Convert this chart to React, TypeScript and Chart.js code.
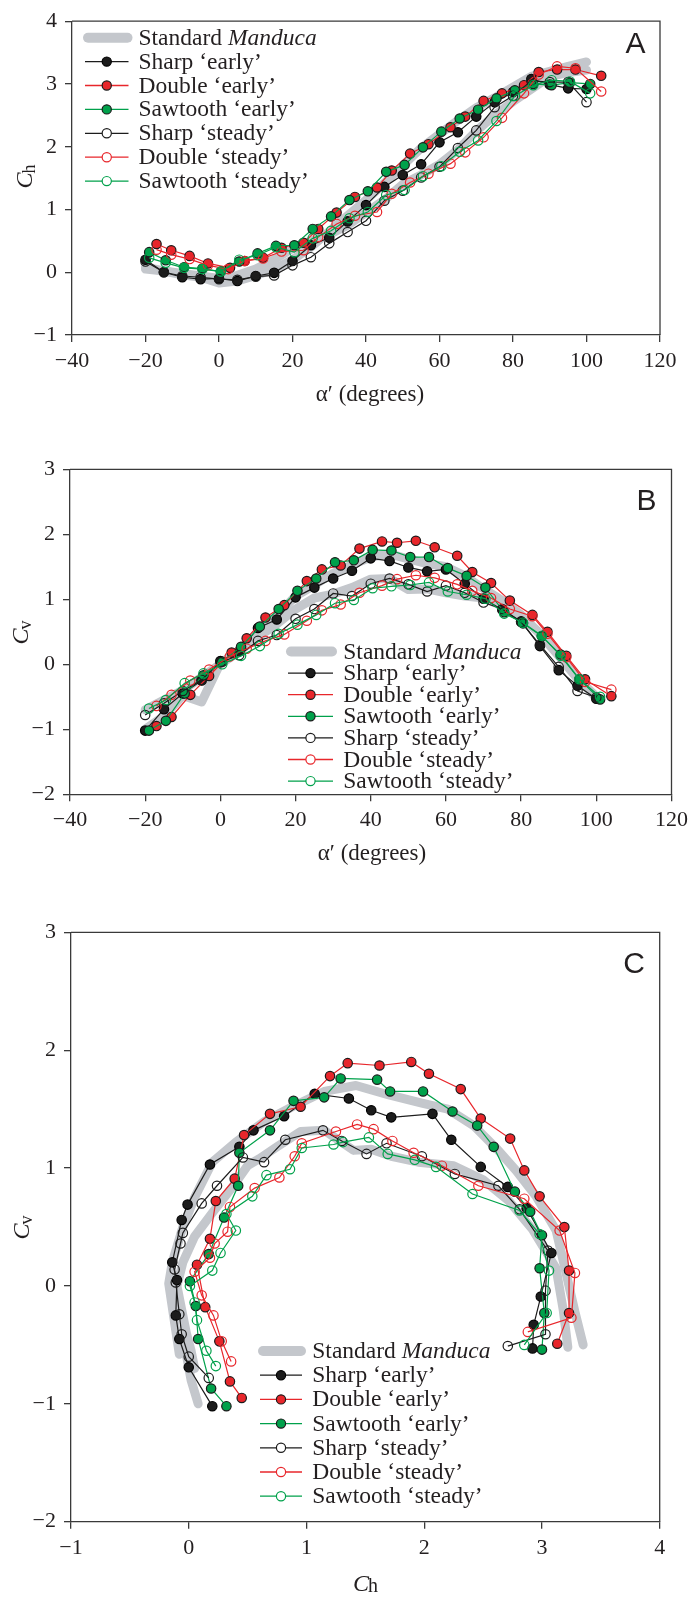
import React, { useEffect, useRef } from "react";
import { Chart, registerables } from "chart.js";

Chart.register(...registerables);

// ---------------- DATA ----------------
// alpha' (degrees), Ch (horizontal force coeff), Cv (vertical force coeff)
const sharpEarlyAlpha = [-20, -15, -10, -5, 0, 5, 10, 15, 20, 25, 30, 35, 40, 45, 50, 55, 60, 65, 70, 75, 80, 85, 90, 95, 100];
const sharpEarlyCh = [0.20, 0.00, -0.08, -0.11, -0.10, -0.14, -0.06, -0.01, 0.18, 0.43, 0.55, 0.81, 1.07, 1.36, 1.55, 1.72, 2.07, 2.23, 2.48, 2.71, 2.87, 3.08, 2.99, 2.93, 2.92];
const sharpEarlyCv = [-1.02, -0.69, -0.45, -0.25, 0.05, 0.20, 0.56, 0.69, 1.03, 1.18, 1.32, 1.44, 1.63, 1.59, 1.49, 1.43, 1.46, 1.24, 1.01, 0.84, 0.66, 0.28, -0.09, -0.33, -0.53];

const doubleEarlyAlpha = [-17, -13, -8, -3, 3, 7, 12, 17, 23, 27, 32, 37, 43, 47, 52, 57, 63, 67, 72, 77, 83, 87, 92, 97, 104];
const doubleEarlyCh = [0.45, 0.35, 0.26, 0.14, 0.07, 0.18, 0.23, 0.39, 0.47, 0.69, 0.95, 1.20, 1.35, 1.62, 1.89, 2.04, 2.31, 2.48, 2.73, 2.85, 2.98, 3.19, 3.23, 3.23, 3.13];
const doubleEarlyCv = [-0.95, -0.81, -0.47, -0.18, 0.18, 0.40, 0.72, 0.91, 1.28, 1.46, 1.52, 1.78, 1.89, 1.87, 1.90, 1.80, 1.67, 1.42, 1.25, 0.98, 0.76, 0.50, 0.13, -0.23, -0.49];

const sawEarlyAlpha = [-19, -14.5, -9.5, -4.5, 0.5, 5.5, 10.5, 15.5, 20.5, 25.5, 30.5, 35.5, 40.5, 45.5, 50.5, 55.5, 60.5, 65.5, 70.5, 75.5, 80.5, 85.5, 90.5, 95.5, 101];
const sawEarlyCh = [0.32, 0.19, 0.08, 0.06, 0.01, 0.17, 0.30, 0.42, 0.43, 0.69, 0.89, 1.15, 1.29, 1.60, 1.71, 1.99, 2.24, 2.45, 2.59, 2.77, 2.90, 3.00, 2.98, 3.02, 3.00];
const sawEarlyCv = [-1.02, -0.87, -0.45, -0.17, 0.04, 0.27, 0.58, 0.85, 1.13, 1.32, 1.57, 1.60, 1.76, 1.75, 1.65, 1.65, 1.48, 1.36, 1.18, 0.80, 0.63, 0.43, 0.15, -0.23, -0.54];

const sharpSteadyAlpha = [-20, -15, -10, -5, 0, 5, 10, 15, 20, 25, 30, 35, 40, 45, 50, 55, 60, 65, 70, 75, 80, 85, 90, 95, 100];
const sharpSteadyCh = [0.17, 0.00, -0.06, -0.08, -0.11, -0.12, -0.07, -0.05, 0.11, 0.24, 0.46, 0.64, 0.82, 1.14, 1.30, 1.51, 1.68, 1.98, 2.26, 2.63, 2.81, 3.05, 3.03, 3.03, 2.71];
const sharpSteadyCv = [-0.78, -0.60, -0.41, -0.24, 0.03, 0.14, 0.36, 0.45, 0.70, 0.85, 1.09, 1.05, 1.24, 1.32, 1.23, 1.12, 1.21, 1.10, 0.95, 0.85, 0.65, 0.30, -0.04, -0.41, -0.51];

const doubleSteadyAlpha = [-17, -13, -8, -3, 2.5, 7, 12, 17, 23, 27, 32, 37, 43, 47, 52, 57, 63, 67, 72, 77, 83, 87, 92, 97, 104];
const doubleSteadyCh = [0.36, 0.28, 0.21, 0.11, 0.05, 0.18, 0.22, 0.33, 0.35, 0.56, 0.77, 0.90, 0.96, 1.25, 1.43, 1.57, 1.73, 1.91, 2.15, 2.46, 2.85, 3.15, 3.28, 3.25, 2.88];
const doubleSteadyCv = [-0.64, -0.47, -0.25, -0.08, 0.12, 0.24, 0.36, 0.46, 0.67, 0.83, 0.92, 1.10, 1.21, 1.31, 1.37, 1.33, 1.23, 1.13, 1.02, 0.85, 0.74, 0.47, 0.11, -0.27, -0.39];

const sawSteadyAlpha = [-19, -14.5, -9.5, -4.5, 0.5, 5.5, 10.5, 15.5, 20.5, 25.5, 30.5, 35.5, 40.5, 45.5, 50.5, 55.5, 60.5, 65.5, 70.5, 75.5, 80.5, 85.5, 90.5, 95.5, 101];
const sawSteadyCh = [0.23, 0.15, 0.07, 0.05, 0.01, 0.20, 0.27, 0.40, 0.32, 0.54, 0.66, 0.86, 0.96, 1.23, 1.31, 1.53, 1.69, 1.92, 2.10, 2.41, 2.81, 2.98, 3.06, 3.04, 2.85];
const sawSteadyCv = [-0.68, -0.55, -0.29, -0.14, 0.00, 0.13, 0.28, 0.47, 0.61, 0.76, 0.94, 0.99, 1.17, 1.20, 1.22, 1.26, 1.12, 1.07, 1.01, 0.78, 0.64, 0.44, 0.13, -0.23, -0.50];

const manducaEarlyAlpha = [-20, -15, -10, -5, 0, 5, 10, 15, 20, 25, 30, 35, 40, 45, 50, 55, 60, 65, 70, 75, 80, 85, 90, 95, 100];
const manducaEarlyCh = [0.08, 0.02, -0.04, -0.08, -0.17, -0.14, -0.05, 0.05, 0.20, 0.40, 0.65, 0.90, 1.15, 1.42, 1.70, 1.98, 2.20, 2.42, 2.62, 2.78, 2.95, 3.12, 3.20, 3.28, 3.35];
const manducaEarlyCv = [-1.00, -0.80, -0.48, -0.58, 0.02, 0.20, 0.50, 0.75, 1.05, 1.22, 1.40, 1.53, 1.65, 1.70, 1.62, 1.55, 1.50, 1.36, 1.16, 0.98, 0.76, 0.47, 0.13, -0.22, -0.50];

const manducaSteadyAlpha = [-20, -15, -10, -5, 0, 5, 10, 15, 20, 25, 30, 35, 40, 45, 50, 55, 60, 65, 70, 75, 80, 85, 90, 95, 100];
const manducaSteadyCh = [0.05, 0.02, -0.02, -0.06, -0.10, -0.05, 0.05, 0.20, 0.38, 0.50, 0.60, 0.75, 0.95, 1.15, 1.40, 1.55, 1.72, 1.95, 2.25, 2.50, 2.72, 2.92, 3.12, 3.18, 3.22];
const manducaSteadyCv = [-0.70, -0.55, -0.40, -0.20, 0.00, 0.20, 0.42, 0.62, 0.85, 1.02, 1.08, 1.18, 1.31, 1.32, 1.15, 1.16, 1.10, 1.05, 1.02, 0.90, 0.72, 0.48, 0.15, -0.20, -0.52];

const alphaTicks = { min: -40, max: 120, step: 20 };
const chTicksA = { min: -1, max: 4, step: 1 };
const cvTicksB = { min: -2, max: 3, step: 1 };
const chTicksC = { min: -1, max: 4, step: 1 };
const cvTicksC = { min: -2, max: 3, step: 1 };

// ---------------- STYLE ----------------
const SERIF = '"Liberation Serif", "Times New Roman", serif';
const SANS = '"Liberation Sans", Arial, sans-serif';
const INK = "#231f20";
const AXIS = "#3a3a3a";
const GRAY = "#c4c7cc";
const BLACK = "#1c1c1c";
const RED = "#e8262b";
const GREEN = "#00a14b";
const HOLLOW = "rgba(255,255,255,0)";

type Vars = { alpha: number[]; ch: number[]; cv: number[] };
type Series = Vars & { label: string; line: string; fill: string; edge: string; order: number };

const SERIES: Series[] = [
  { label: "Sharp \u2018early\u2019", alpha: sharpEarlyAlpha, ch: sharpEarlyCh, cv: sharpEarlyCv, line: BLACK, fill: BLACK, edge: "#000", order: 6 },
  { label: "Double \u2018early\u2019", alpha: doubleEarlyAlpha, ch: doubleEarlyCh, cv: doubleEarlyCv, line: RED, fill: RED, edge: "#1a1a1a", order: 5 },
  { label: "Sawtooth \u2018early\u2019", alpha: sawEarlyAlpha, ch: sawEarlyCh, cv: sawEarlyCv, line: GREEN, fill: GREEN, edge: "#1a1a1a", order: 4 },
  { label: "Sharp \u2018steady\u2019", alpha: sharpSteadyAlpha, ch: sharpSteadyCh, cv: sharpSteadyCv, line: BLACK, fill: HOLLOW, edge: BLACK, order: 3 },
  { label: "Double \u2018steady\u2019", alpha: doubleSteadyAlpha, ch: doubleSteadyCh, cv: doubleSteadyCv, line: RED, fill: HOLLOW, edge: RED, order: 2 },
  { label: "Sawtooth \u2018steady\u2019", alpha: sawSteadyAlpha, ch: sawSteadyCh, cv: sawSteadyCv, line: GREEN, fill: HOLLOW, edge: GREEN, order: 1 },
];

const MANDUCA: Vars[] = [
  { alpha: manducaEarlyAlpha, ch: manducaEarlyCh, cv: manducaEarlyCv },
  { alpha: manducaSteadyAlpha, ch: manducaSteadyCh, cv: manducaSteadyCv },
];

type VarKey = "alpha" | "ch" | "cv";
type Panel = {
  key: string;
  top: number;
  height: number;
  plot: { left: number; right: number; top: number; bottom: number };
  xVar: VarKey;
  yVar: VarKey;
  xRange: { min: number; max: number; step: number };
  yRange: { min: number; max: number; step: number };
  xTitle: { kind: "alpha" | "sub"; sub?: string; cx: number; base: number };
  yTitle: { sub: string; cy: number; baseX: number };
  legend: { lineX0: number; lineX1: number; textX: number; y0: number; dy: number };
  letter: { right: number; base: number };
};

const PANELS: Panel[] = [
  {
    key: "A", top: 0, height: 420,
    plot: { left: 72, right: 660, top: 17.5, bottom: 335 },
    xVar: "alpha", yVar: "ch", xRange: alphaTicks, yRange: chTicksA,
    xTitle: { kind: "alpha", cx: 370, base: 401 },
    yTitle: { sub: "h", cy: 176, baseX: 32 },
    legend: { lineX0: 85, lineX1: 128.5, textX: 138.5, y0: 37.7, dy: 23.9 },
    letter: { right: 645.5, base: 53.3 },
  },
  {
    key: "B", top: 420, height: 460,
    plot: { left: 70, right: 672, top: 469.3, bottom: 794.3 },
    xVar: "alpha", yVar: "cv", xRange: alphaTicks, yRange: cvTicksB,
    xTitle: { kind: "alpha", cx: 372, base: 860 },
    yTitle: { sub: "v", cy: 632, baseX: 28 },
    legend: { lineX0: 288, lineX1: 333, textX: 343.3, y0: 651.5, dy: 21.6 },
    letter: { right: 656.5, base: 510 },
  },
  {
    key: "C", top: 880, height: 717,
    plot: { left: 71, right: 659.7, top: 932.3, bottom: 1521.7 },
    xVar: "ch", yVar: "cv", xRange: chTicksC, yRange: cvTicksC,
    xTitle: { kind: "sub", sub: "h", cx: 366, base: 1591 },
    yTitle: { sub: "v", cy: 1227, baseX: 29 },
    legend: { lineX0: 260, lineX1: 302, textX: 312.3, y0: 1351, dy: 24.2 },
    letter: { right: 645, base: 972.7 },
  },
];

const fmt = (v: number | string) => String(v).replace("-", "\u2212");

function drawSubText(ctx: CanvasRenderingContext2D, x: number, y: number, main: string, sub: string, subSize: number, subDrop: number) {
  const mainFont = `italic 24px ${SERIF}`;
  const subFont = `${subSize}px ${SERIF}`;
  ctx.font = mainFont;
  const w1 = ctx.measureText(main).width;
  ctx.font = subFont;
  const w2 = ctx.measureText(sub).width;
  const total = w1 + w2;
  const x0 = x - total / 2;
  ctx.textAlign = "left";
  ctx.textBaseline = "alphabetic";
  ctx.font = mainFont;
  ctx.fillText(main, x0, y);
  ctx.font = subFont;
  ctx.fillText(sub, x0 + w1 - 1, y + subDrop);
}

function makeDeco(p: Panel) {
  return {
    id: "deco" + p.key,
    afterDraw(chart: any) {
      const ctx: CanvasRenderingContext2D = chart.ctx;
      const ca = chart.chartArea;
      const oy = p.top;
      ctx.save();
      // frame top & right
      ctx.strokeStyle = AXIS;
      ctx.lineWidth = 1.3;
      ctx.beginPath();
      ctx.moveTo(ca.left, ca.top);
      ctx.lineTo(ca.right, ca.top);
      ctx.lineTo(ca.right, ca.bottom);
      ctx.stroke();

      ctx.fillStyle = INK;
      // panel letter
      ctx.font = `30px ${SANS}`;
      ctx.textAlign = "right";
      ctx.textBaseline = "alphabetic";
      ctx.fillText(p.key, p.letter.right, p.letter.base - oy);

      // x title
      if (p.xTitle.kind === "alpha") {
        ctx.font = `23px ${SERIF}`;
        ctx.textAlign = "center";
        ctx.textBaseline = "alphabetic";
        ctx.fillText("\u03b1\u2032 (degrees)", p.xTitle.cx, p.xTitle.base - oy);
      } else {
        drawSubText(ctx, p.xTitle.cx, p.xTitle.base - oy, "C", p.xTitle.sub || "", 20, 1);
      }

      // y title (rotated)
      ctx.save();
      ctx.translate(p.yTitle.baseX, p.yTitle.cy - oy);
      ctx.rotate(-Math.PI / 2);
      drawSubText(ctx, 0, 0, "C", p.yTitle.sub, 18, 2.5);
      ctx.restore();

      // legend
      const L = p.legend;
      const midX = (L.lineX0 + L.lineX1) / 2;
      const rows = 1 + SERIES.length;
      for (let i = 0; i < rows; i++) {
        const y = L.y0 + L.dy * i - oy;
        if (i === 0) {
          ctx.strokeStyle = GRAY;
          ctx.lineWidth = 10;
          ctx.lineCap = "round";
          ctx.beginPath();
          ctx.moveTo(L.lineX0 + 3, y);
          ctx.lineTo(L.lineX1 - 1, y);
          ctx.stroke();
          ctx.lineCap = "butt";
          ctx.fillStyle = INK;
          ctx.textAlign = "left";
          ctx.textBaseline = "alphabetic";
          ctx.font = `23.5px ${SERIF}`;
          const t1 = "Standard ";
          ctx.fillText(t1, L.textX, y + 7);
          const w = ctx.measureText(t1).width;
          ctx.font = `italic 23.5px ${SERIF}`;
          ctx.fillText("Manduca", L.textX + w, y + 7);
        } else {
          const s = SERIES[i - 1];
          ctx.strokeStyle = s.line;
          ctx.lineWidth = 1.3;
          ctx.beginPath();
          ctx.moveTo(L.lineX0, y);
          ctx.lineTo(L.lineX1, y);
          ctx.stroke();
          ctx.beginPath();
          ctx.arc(midX, y, 4.6, 0, Math.PI * 2);
          ctx.fillStyle = s.fill !== HOLLOW ? s.fill : "#fff";
          ctx.fill();
          ctx.strokeStyle = s.edge;
          ctx.lineWidth = 1.2;
          ctx.stroke();
          ctx.fillStyle = INK;
          ctx.font = `23.5px ${SERIF}`;
          ctx.textAlign = "left";
          ctx.textBaseline = "alphabetic";
          ctx.fillText(s.label, L.textX, y + 7);
        }
      }
      ctx.restore();
    },
  };
}

function pick(v: Vars, k: VarKey, i: number) {
  return v[k][i];
}

function buildConfig(p: Panel): any {
  const datasets: any[] = [];
  SERIES.forEach((s) => {
    datasets.push({
      label: s.label,
      data: s.alpha.map((_, i) => ({ x: pick(s, p.xVar, i), y: pick(s, p.yVar, i) })),
      showLine: true,
      borderColor: s.line,
      borderWidth: 1.2,
      backgroundColor: s.fill,
      pointRadius: 4.7,
      pointHoverRadius: 4.7,
      pointBackgroundColor: s.fill,
      pointBorderColor: s.edge,
      pointBorderWidth: 1.2,
      tension: 0,
      order: s.order,
      clip: false,
    });
  });
  MANDUCA.forEach((m, j) => {
    datasets.push({
      label: "Standard Manduca " + j,
      data: m.alpha.map((_, i) => ({ x: pick(m, p.xVar, i), y: pick(m, p.yVar, i) })),
      showLine: true,
      borderColor: GRAY,
      borderWidth: 9,
      borderCapStyle: "round",
      borderJoinStyle: "round",
      pointRadius: 0,
      pointHoverRadius: 0,
      tension: 0,
      order: 50 + j,
    });
  });

  const localTop = p.plot.top - p.top;
  const localBottom = p.plot.bottom - p.top;
  const tickFont = { family: SERIF, size: 22 };

  return {
    type: "scatter",
    data: { datasets },
    options: {
      responsive: false,
      maintainAspectRatio: false,
      animation: false,
      events: [],
      layout: { padding: { left: 0, top: localTop, right: 694 - p.plot.right, bottom: 0 } },
      plugins: { legend: { display: false }, tooltip: { enabled: false }, title: { display: false } },
      scales: {
        x: {
          type: "linear",
          position: "bottom",
          min: p.xRange.min,
          max: p.xRange.max,
          afterFit: (s: any) => { s.height = p.height - localBottom; },
          ticks: { stepSize: p.xRange.step, font: tickFont, color: INK, padding: 6, maxRotation: 0, callback: (v: any) => fmt(v) },
          grid: { drawOnChartArea: false, drawTicks: true, tickLength: 7, color: AXIS, lineWidth: 1.3 },
          border: { display: true, color: AXIS, width: 1.3 },
        },
        y: {
          type: "linear",
          position: "left",
          min: p.yRange.min,
          max: p.yRange.max,
          afterFit: (s: any) => { s.width = p.plot.left; },
          ticks: { stepSize: p.yRange.step, font: tickFont, color: INK, padding: 8, callback: (v: any) => fmt(v) },
          grid: { drawOnChartArea: false, drawTicks: true, tickLength: 7, color: AXIS, lineWidth: 1.3 },
          border: { display: true, color: AXIS, width: 1.3 },
        },
      },
    },
    plugins: [makeDeco(p)],
  };
}

export default function App() {
  const r0 = useRef<HTMLCanvasElement>(null);
  const r1 = useRef<HTMLCanvasElement>(null);
  const r2 = useRef<HTMLCanvasElement>(null);
  const refs = [r0, r1, r2];

  useEffect(() => {
    document.body.style.margin = "0";
    const charts = PANELS.map((p, i) => new Chart(refs[i].current as HTMLCanvasElement, buildConfig(p)));
    return () => charts.forEach((c) => c.destroy());
  }, []);

  return (
    <div style={{ position: "relative", width: 694, height: 1597, background: "#fff" }}>
      {PANELS.map((p, i) => (
        <canvas
          key={p.key}
          ref={refs[i]}
          width={694}
          height={p.height}
          style={{ position: "absolute", left: 0, top: p.top, width: 694, height: p.height }}
        />
      ))}
    </div>
  );
}
